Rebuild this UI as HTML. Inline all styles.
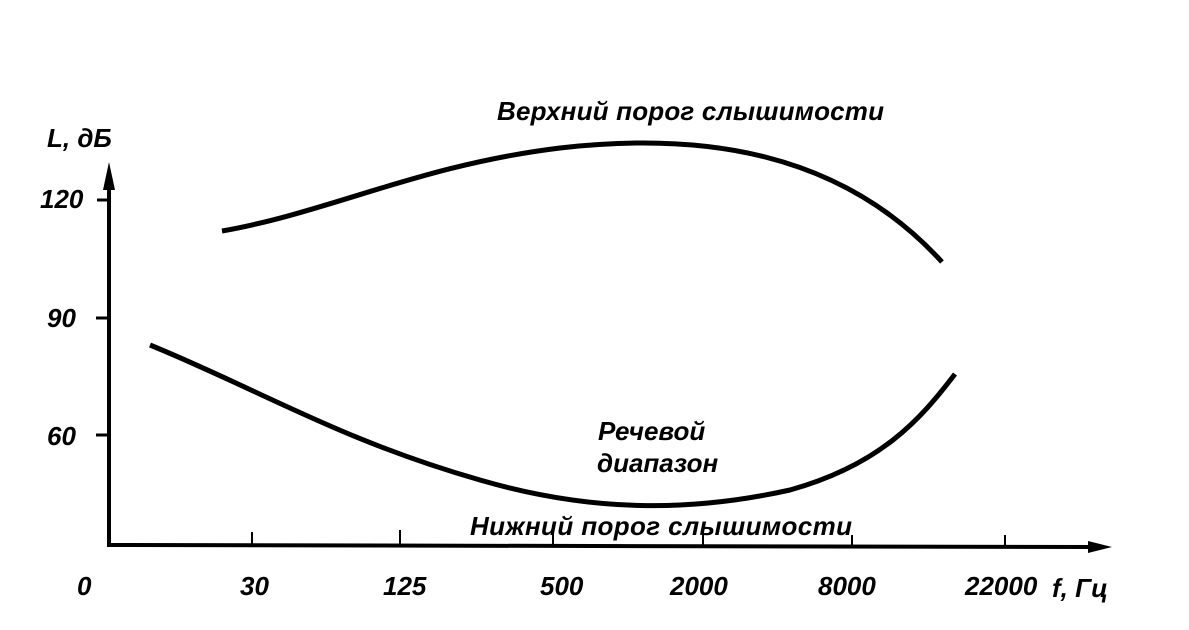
<!DOCTYPE html>
<html><head><meta charset="utf-8"><style>
html,body{margin:0;padding:0;background:#fff;}
svg text{font-family:"Liberation Sans",sans-serif;font-style:italic;font-weight:bold;font-size:26px;fill:#000;}
</style></head><body>
<svg width="1189" height="625" viewBox="0 0 1189 625" xmlns="http://www.w3.org/2000/svg">
<g stroke="#000" fill="none">
<line x1="109" y1="545" x2="109" y2="180" stroke-width="4"/>
<line x1="107" y1="545" x2="1095" y2="547" stroke-width="4"/>
<line x1="97" y1="200" x2="109" y2="200" stroke-width="3"/>
<line x1="96" y1="318" x2="109" y2="318" stroke-width="3"/>
<line x1="96" y1="435" x2="109" y2="435" stroke-width="3"/>
<line x1="252" y1="532" x2="252" y2="546" stroke-width="2"/>
<line x1="400" y1="530" x2="400" y2="546" stroke-width="2"/>
<line x1="553" y1="532" x2="553" y2="546" stroke-width="2"/>
<line x1="703" y1="535" x2="703" y2="547" stroke-width="2"/>
<line x1="852" y1="535" x2="852" y2="547" stroke-width="2"/>
<line x1="1005" y1="535" x2="1005" y2="548" stroke-width="2"/>
<path d="M222,231 C330,212 420,165 560,148 C700,132 840,150 942,262" stroke-width="5"/>
<path d="M150,345 C260,390 340,440 480,480 C600,515 700,510 790,490 C880,465 920,420 955,374" stroke-width="5"/>
</g>
<polygon points="109,162 103,190 115,190" fill="#000"/>
<polygon points="1112,547 1088,541 1088,553" fill="#000"/>
<text x="497" y="120" textLength="387">Верхний порог слышимости</text>
<text x="47" y="147">L, дБ</text>
<text x="40" y="208">120</text>
<text x="47" y="327">90</text>
<text x="47" y="445">60</text>
<text x="598" y="440">Речевой</text>
<text x="597" y="472">диапазон</text>
<text x="470" y="535" textLength="382">Нижний порог слышимости</text>
<text x="77" y="595">0</text>
<text x="240" y="595">30</text>
<text x="383" y="595">125</text>
<text x="540" y="595">500</text>
<text x="670" y="595">2000</text>
<text x="818" y="595">8000</text>
<text x="965" y="595">22000</text>
<text x="1052" y="597">f, Гц</text>
</svg>
</body></html>
